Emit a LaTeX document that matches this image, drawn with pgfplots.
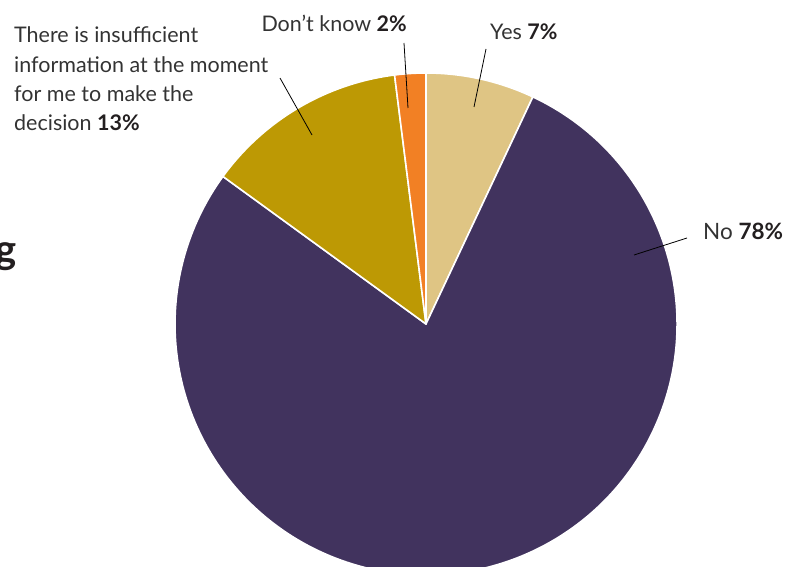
\documentclass[border=0pt]{standalone}
\usepackage{pgfplots}
\pgfplotsset{compat=1.18}
\usepackage{fontspec}
\setmainfont{Lato}
\definecolor{cYes}{HTML}{DFC584}
\definecolor{cNo}{HTML}{41335E}
\definecolor{cIns}{HTML}{BD9904}
\definecolor{cDK}{HTML}{F28024}
\definecolor{txt}{HTML}{333333}
\definecolor{bld}{HTML}{231F20}
\def\curang{90}
\newcommand\slice[2]{% percent, colour
  \pgfmathsetmacro\sliceend{\curang-3.6*#1}%
  \edef\tmp{\noexpand\fill[#2, draw=white, line width=1.6pt, line join=round]
    (axis cs:426,242) -- ++(\curang:251pt)
    arc[start angle=\curang, end angle=\sliceend, radius=251pt] -- cycle;}%
  \tmp
  \global\let\curang\sliceend}
\begin{document}
\begin{tikzpicture}
\useasboundingbox (0,0) rectangle (792pt,566pt);
\clip (0,0) rectangle (792pt,566pt);
\begin{axis}[
  at={(0,0)}, anchor=south west,
  scale only axis, width=792pt, height=566pt,
  xmin=0, xmax=792, ymin=0, ymax=566,
  hide axis, clip=true]
  % Yes 7, No 78, insufficient 13, don't know 2 (clockwise from top)
  \slice{7}{cYes}
  \slice{78}{cNo}
  \slice{13}{cIns}
  \slice{2}{cDK}
  % leader lines
  \draw[black, line width=0.8pt] (axis cs:404,523) -- (axis cs:408,458);
  \draw[black, line width=0.8pt] (axis cs:486,517) -- (axis cs:474,459);
  \draw[black, line width=0.8pt] (axis cs:687,328) -- (axis cs:634,311);
  \draw[black, line width=0.8pt] (axis cs:280,488) -- (axis cs:312,431);
  % labels
  \node[anchor=base west, inner sep=0pt, font=\fontsize{21.5}{25}\selectfont, text=txt] at (axis cs:14,523) {There is insufficient};
  \node[anchor=base west, inner sep=0pt, font=\fontsize{21.5}{25}\selectfont, text=txt] at (axis cs:14,493) {information at the moment};
  \node[anchor=base west, inner sep=0pt, font=\fontsize{21.5}{25}\selectfont, text=txt] at (axis cs:14,464) {for me to make the};
  \node[anchor=base west, inner sep=0pt, font=\fontsize{21.5}{25}\selectfont, text=txt] at (axis cs:14,435) {decision \textcolor{bld}{\textbf{13\%}}};
  \node[anchor=base east, inner sep=0pt, font=\fontsize{21.5}{25}\selectfont, text=txt] at (axis cs:407,534) {Don’t know \textcolor{bld}{\textbf{2\%}}};
  \node[anchor=base west, inner sep=0pt, font=\fontsize{21.5}{25}\selectfont, text=txt] at (axis cs:490,526) {Yes \textcolor{bld}{\textbf{7\%}}};
  \node[anchor=base west, inner sep=0pt, font=\fontsize{22.5}{25}\selectfont, text=txt] at (axis cs:703,327) {No \textcolor{bld}{\textbf{78\%}}};
  \node[anchor=base east, inner sep=0pt, font=\fontsize{40}{44}\selectfont\bfseries, text=bld] at (axis cs:17,303) {g};
\end{axis}
\end{tikzpicture}
\end{document}
